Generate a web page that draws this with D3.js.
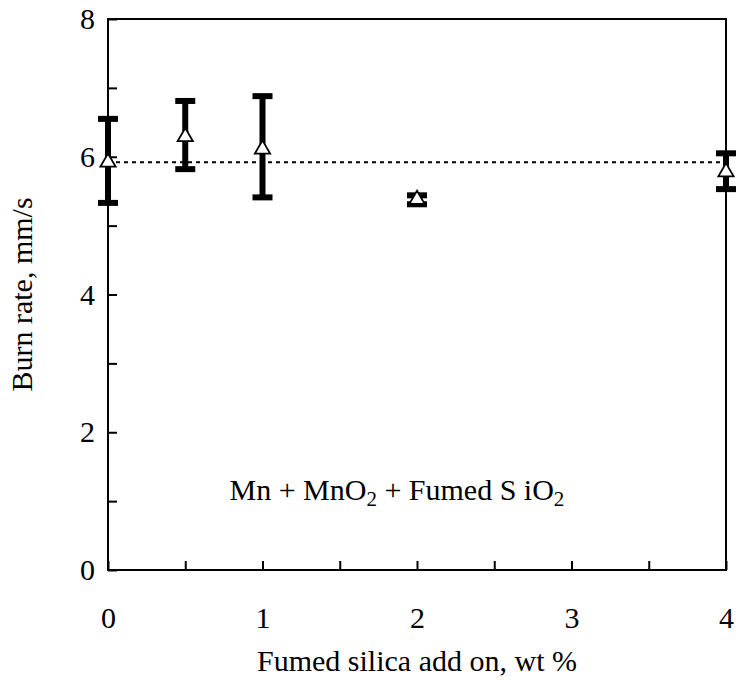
<!DOCTYPE html>
<html>
<head>
<meta charset="utf-8">
<script src="https://cdn.jsdelivr.net/npm/d3@7"></script>
<style>
  body { margin: 0; background: #fff; }
  svg text { font-family: "Liberation Serif", "Times New Roman", Times, serif; fill: #000; }
</style>
</head>
<body>
<svg width="736" height="680"></svg>
<script>
// silica add-on (wt %) and measured burn rate (mm/s)
var silica = [0, 0.5, 1, 2, 4];
var burnRate = [5.92, 6.29, 6.11, 5.38, 5.78];
var errLow = [5.33, 5.82, 5.41, 5.31, 5.53];
var errHigh = [6.55, 6.81, 6.88, 5.44, 6.05];
var meanRate = 5.92;

var xTicks = [0, 0.5, 1, 1.5, 2, 2.5, 3, 3.5, 4];
var yTicks = [0, 1, 2, 3, 4, 5, 6, 7, 8];

var svg = d3.select("svg"),
    margin = {top: 19, right: 10, bottom: 110, left: 108},
    width = +svg.attr("width"),
    height = +svg.attr("height");

var x = d3.scaleLinear()
    .domain([0, 4])
    .range([margin.left, width - margin.right]);

var y = d3.scaleLinear()
    .domain([0, 8])
    .range([height - margin.bottom, margin.top]);

// frame
svg.append("rect")
    .attr("x", x(0))
    .attr("y", y(8))
    .attr("width", x(4) - x(0))
    .attr("height", y(0) - y(8))
    .attr("fill", "none")
    .attr("stroke", "#000")
    .attr("stroke-width", 2);

var xAxis = svg.append("g")
    .attr("transform", "translate(0," + y(0) + ")")
    .call(d3.axisBottom(x)
      .tickValues(xTicks)
      .tickSize(-9)
      .tickPadding(37)
      .tickFormat(function(d) { return d % 1 === 0 ? d : ""; }));

var yAxis = svg.append("g")
    .attr("transform", "translate(" + x(0) + ",0)")
    .call(d3.axisLeft(y)
      .tickValues(yTicks)
      .tickSize(-9)
      .tickPadding(13)
      .tickFormat(function(d) { return d % 2 === 0 ? d : ""; }));

[xAxis, yAxis].forEach(function(g) {
  g.attr("font-family", null).attr("font-size", 30);
  g.select(".domain").remove();
  g.selectAll(".tick line").attr("stroke", "#000").attr("stroke-width", 2);
});

// mean line
svg.append("line")
    .attr("x1", x(0))
    .attr("x2", x(4))
    .attr("y1", y(meanRate))
    .attr("y2", y(meanRate))
    .attr("stroke", "#000")
    .attr("stroke-width", 2)
    .attr("stroke-dasharray", "4,4");

// error bars
var bars = svg.append("g")
  .selectAll("g")
  .data(silica)
  .enter().append("g")
    .attr("stroke", "#000");

bars.append("line")
    .attr("x1", function(d) { return x(d); })
    .attr("x2", function(d) { return x(d); })
    .attr("y1", function(d, i) { return y(errLow[i]); })
    .attr("y2", function(d, i) { return y(errHigh[i]); })
    .attr("stroke-width", 6);

bars.selectAll(".cap")
  .data(function(d, i) { return [[d, errLow[i]], [d, errHigh[i]]]; })
  .enter().append("line")
    .attr("class", "cap")
    .attr("x1", function(d) { return x(d[0]) - 10; })
    .attr("x2", function(d) { return x(d[0]) + 10; })
    .attr("y1", function(d) { return y(d[1]); })
    .attr("y2", function(d) { return y(d[1]); })
    .attr("stroke-width", 6);

// markers
svg.append("g")
  .selectAll("path")
  .data(silica)
  .enter().append("path")
    .attr("d", d3.symbol(d3.symbolTriangle, 100))
    .attr("transform", function(d, i) { return "translate(" + x(d) + "," + y(burnRate[i]) + ")"; })
    .attr("fill", "#fff")
    .attr("stroke", "#000")
    .attr("stroke-width", 1.8);

// titles
svg.append("text")
    .attr("x", (x(0) + x(4)) / 2)
    .attr("y", 671)
    .attr("text-anchor", "middle")
    .attr("font-size", 30)
    .text("Fumed silica add on, wt %");

svg.append("text")
    .attr("transform", "translate(32," + y(4) + ") rotate(-90)")
    .attr("text-anchor", "middle")
    .attr("font-size", 30)
    .text("Burn rate, mm/s");

// composition note
var note = svg.append("text")
    .attr("x", x(1.87))
    .attr("y", y(1.02))
    .attr("text-anchor", "middle")
    .attr("font-size", 30);
note.append("tspan").text("Mn + MnO");
note.append("tspan").attr("font-size", 21).attr("dy", 6).text("2");
note.append("tspan").attr("dy", -6).text(" + Fumed S iO");
note.append("tspan").attr("font-size", 21).attr("dy", 6).text("2");
</script>
</body>
</html>
